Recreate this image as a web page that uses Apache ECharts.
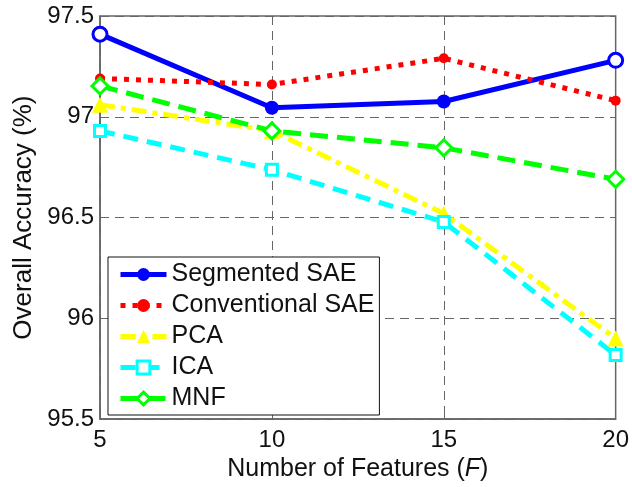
<!DOCTYPE html>
<html><head><meta charset="utf-8">
<script src="https://cdn.jsdelivr.net/npm/echarts@6/dist/echarts.min.js"></script>
<style>html,body{margin:0;padding:0;background:#fff}#c{width:632px;height:487px}</style>
</head><body><div id="c"></div>
<script>
const features = [5, 10, 15, 20];
const segmentedSAE = [97.41, 97.045, 97.076, 97.28];
const conventionalSAE = [97.19, 97.16, 97.29, 97.08];
const pca = [97.06, 96.93, 96.52, 95.9];
const ica = [96.93, 96.737, 96.478, 95.818];
const mnf = [97.153, 96.93, 96.846, 96.69];
const seriesNames = ['Segmented SAE', 'Conventional SAE', 'PCA', 'ICA', 'MNF'];

const FONT = 'Liberation Sans';
const pair = v => v.map((y, i) => [features[i], y]);
const colors = ['#0000ff', '#ff0000', '#ffff00', '#00ffff', '#00ff00'];
const hollowLegend = [false, false, false, true, true];

function mk(name, vals, color, lineType, symbol, size, hollowIdx) {
  const data = pair(vals).map((p, i) => {
    if (hollowIdx && hollowIdx.includes(i)) {
      return { value: p, itemStyle: { color: '#fff', borderColor: color, borderWidth: 3 } };
    }
    return p;
  });
  return {
    name, type: 'line', data, symbol, symbolSize: size,
    lineStyle: { color, width: 5, type: lineType, cap: 'butt' },
    itemStyle: { color, borderColor: color, borderWidth: 0 },
    z: 3
  };
}

const series = [
  mk(seriesNames[0], segmentedSAE, colors[0], 'solid', 'circle', 14, [0, 3]),
  mk(seriesNames[1], conventionalSAE, colors[1], [5, 7], 'circle', 10),
  mk(seriesNames[2], pca, colors[2], [15, 6, 5, 6], 'triangle', 16),
  mk(seriesNames[3], ica, colors[3], [15, 9], 'rect', 11, [0, 1, 2, 3]),
  mk(seriesNames[4], mnf, colors[4], [18, 9], 'diamond', 16, [0, 1, 2, 3]),
];

const legendData = seriesNames.map((n, i) => hollowLegend[i]
  ? { name: n, itemStyle: { color: '#fff', borderColor: colors[i], borderWidth: 3 } }
  : { name: n });

const chart = echarts.init(document.getElementById('c'), null, { renderer: 'canvas' });
chart.setOption({
  animation: false,
  backgroundColor: '#fff',
  grid: { left: 100, right: 15, top: 16, bottom: 64, show: true, borderColor: '#666', borderWidth: 1.5 },
  xAxis: {
    type: 'value', min: 5, max: 20, interval: 5,
    name: '{a|Number of Features (}{i|F}{a|)}',
    nameLocation: 'middle', nameGap: 32,
    nameTextStyle: { rich: { a: { fontFamily: FONT, fontSize: 25, color: '#111' }, i: { fontFamily: FONT, fontSize: 25, fontStyle: 'italic', color: '#111' } } },
    axisLine: { show: true, lineStyle: { color: '#666', width: 1.5 } },
    axisTick: { show: true, inside: true, length: 6, lineStyle: { color: '#666' } },
    axisLabel: { fontFamily: FONT, fontSize: 24, color: '#111', margin: 9 },
    splitLine: { show: true, lineStyle: { color: '#666', type: [9, 6], width: 1 } }
  },
  yAxis: {
    type: 'value', min: 95.5, max: 97.5, interval: 0.5,
    name: 'Overall Accuracy (%)', nameLocation: 'middle', nameGap: 63,
    nameTextStyle: { fontFamily: FONT, fontSize: 26, color: '#111' },
    axisLine: { show: true, lineStyle: { color: '#666', width: 1.5 } },
    axisTick: { show: true, inside: true, length: 6, lineStyle: { color: '#666' } },
    axisLabel: { fontFamily: FONT, fontSize: 24, color: '#111', margin: 6 },
    splitLine: { show: true, lineStyle: { color: '#666', type: [9, 6], width: 1 } }
  },
  legend: {
    data: legendData,
    orient: 'vertical', left: 108, top: 257,
    backgroundColor: '#fff', borderColor: '#111', borderWidth: 1,
    padding: [5, 5, 4, 10],
    itemGap: 6, itemWidth: 46, itemHeight: 16,
    lineStyle: { width: 5 },
    textStyle: { fontFamily: FONT, fontSize: 25, color: '#111' }
  },
  series
});
</script></body></html>
